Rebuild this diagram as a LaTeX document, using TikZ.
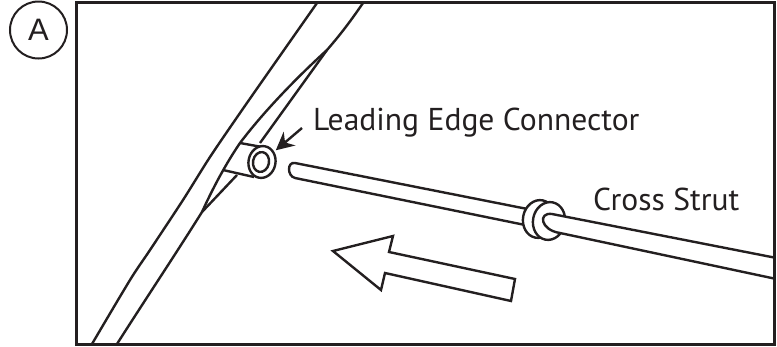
\documentclass[tikz,border=0pt]{standalone}
\usepackage{fontspec}
\setmainfont{PT Sans}
\newfontfamily\markfont{Liberation Sans}
\usetikzlibrary{arrows.meta, positioning, shapes.geometric}
\definecolor{mInk}{HTML}{231F20}
\tikzset{
  part/.style={draw=mInk, line width=2.4pt, line join=miter},
  ring/.style={ellipse, draw=mInk, line width=2.4pt, fill=white, inner sep=0pt, rotate=-11},
  callout/.style={font=\fontsize{31.6}{33}\selectfont, text=mInk, inner sep=0pt, anchor=base west}
}
\begin{document}
\begin{tikzpicture}[x=1pt, y=-1pt, >={Stealth[length=18pt, width=18pt]}]
  \useasboundingbox (0,0) rectangle (777,346);
  % leading edge tube
  \draw[part] plot[smooth, tension=0.5] coordinates {(317,3) (270,70) (240,113) (210,157) (183,200) (150,250) (130,280) (92,344)};
  \draw[part] (363,3) .. controls (350,22) and (340,35) .. (327,50) -- (260,143);
  \draw[part] (237,175) -- (202,212) .. controls (175,255) and (145,300) .. (117,344);
  % connector sleeve
  \fill[white] (240,143) -- (262,147) -- (254,177) -- (223,170) -- cycle;
  \draw[part] (327,50) .. controls (305,70) and (268,106) .. (240,143) .. controls (225,165) and (212,190) .. (202,212);
  \draw[part] (240,143) -- (262,147);
  \draw[part] (223,170) -- (254,177);
  \node[ring, minimum width=27pt, minimum height=32pt] (sleeveOuter) at (262,162) {};
  \node[ring, minimum width=16pt, minimum height=20pt] (sleeveInner) at (261,162) {};
  % cross strut, free end and collar
  \draw[part, fill=white] (530,209.5) -- (295,163) .. controls (287,161.5) and (287,176) .. (295,178) -- (530,226);
  \node[ring, minimum width=32pt, minimum height=38pt] (collarLeft) at (539,219) {};
  \node[ring, minimum width=32pt, minimum height=38pt] (collarRight) at (549,221) {};
  \draw[part, fill=white] (774,257.5) -- (552,214) .. controls (538,212) and (540,230) .. (560,233) -- (774,278.5);
  % direction arrow
  \draw[part, line join=miter, fill=white] (333,251) -- (393,236) -- (389,252) -- (515,279) -- (511,301) -- (385,273) -- (381,290) -- cycle;
  % labels
  \node[callout] (edgeLabel) at (313,130) {Leading Edge Connector};
  \node[callout] (strutLabel) at (593,210) {Cross Strut};
  \coordinate (edgeFrom) at (302,128);
  \draw[->, part, shorten >=2pt] (edgeFrom) -- (sleeveOuter);
  % frame and panel letter
  \draw[draw=mInk, line width=3pt] (76,2.5) rectangle (774,344);
  \node[circle, draw=mInk, line width=2pt, minimum size=57pt, inner sep=0pt, font=\markfont\fontsize{31}{33}\selectfont, text=mInk] (panelMark) at (38.5,30) {A};
\end{tikzpicture}
\end{document}
